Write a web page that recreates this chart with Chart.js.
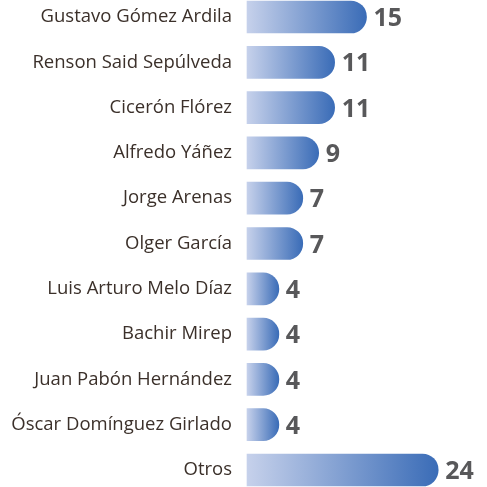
<!DOCTYPE html>
<html>
<head>
<meta charset="utf-8">
<script src="https://cdn.jsdelivr.net/npm/chart.js@4.4.1/dist/chart.umd.min.js"></script>
<style>
  html, body { margin: 0; padding: 0; background: #fff; }
  #wrap { width: 487px; height: 487px; }
</style>
</head>
<body>
<div id="wrap"><canvas id="chart"></canvas></div>
<script>
// Menciones por persona
const nombres = [
    'Gustavo Gómez Ardila',
    'Renson Said Sepúlveda',
    'Cicerón Flórez',
    'Alfredo Yáñez',
    'Jorge Arenas',
    'Olger García',
    'Luis Arturo Melo Díaz',
    'Bachir Mirep',
    'Juan Pabón Hernández',
    'Óscar Domínguez Girlado',
    'Otros',
];
const valores = [15, 11, 11, 9, 7, 7, 4, 4, 4, 4, 24];

// Horizontal gradient per bar: light lavender at the base, blue at the tip
function barGradient(context) {
    const chart = context.chart;
    if (!chart.chartArea) return '#7f9bd0';
    const x = chart.scales.x;
    const v = context.raw;
    const x0 = x.getPixelForValue(0);
    const x1 = x.getPixelForValue(v);
    const g = chart.ctx.createLinearGradient(x0, 0, x1, 0);
    g.addColorStop(0, '#c6d1eb');
    g.addColorStop(1, '#3a6cb7');
    return g;
}

// Bold value printed just past the end of each bar
const valueLabels = {
    id: 'valueLabels',
    afterDatasetsDraw(chart) {
        const ctx = chart.ctx;
        const meta = chart.getDatasetMeta(0);
        ctx.save();
        ctx.font = 'bold 25px "Open Sans", sans-serif';
        ctx.fillStyle = '#58585a';
        ctx.textAlign = 'left';
        ctx.textBaseline = 'middle';
        meta.data.forEach((bar, i) => {
            ctx.fillText(String(valores[i]), bar.x + 7, bar.y + 2);
        });
        ctx.restore();
    },
};

new Chart(document.getElementById('chart'), {
    type: 'bar',
    data: {
        labels: nombres,
        datasets: [{
            data: valores,
            backgroundColor: barGradient,
            borderRadius: { topLeft: 0, bottomLeft: 0, topRight: 16, bottomRight: 16 },
            borderSkipped: false,
            barThickness: 32,
            clip: false,
        }],
    },
    options: {
        indexAxis: 'y',
        responsive: true,
        maintainAspectRatio: false,
        animation: false,
        layout: {
            padding: { top: 17, bottom: 17, right: 1, left: 0 },
        },
        scales: {
            x: {
                display: false,
                min: 0,
                max: 30,
            },
            y: {
                offset: false,
                border: { display: false },
                grid: { display: false, drawTicks: false },
                ticks: {
                    color: '#3b302a',
                    padding: 15,
                    font: { family: '"Open Sans", sans-serif', size: 18.5 },
                },
                afterFit(scale) {
                    scale.width = 247;
                    // let layout.padding alone decide where the first and last rows sit
                    scale.paddingTop = 0;
                    scale.paddingBottom = 0;
                },
            },
        },
        plugins: {
            legend: { display: false },
            tooltip: { enabled: false },
        },
    },
    plugins: [valueLabels],
});
</script>
</body>
</html>
